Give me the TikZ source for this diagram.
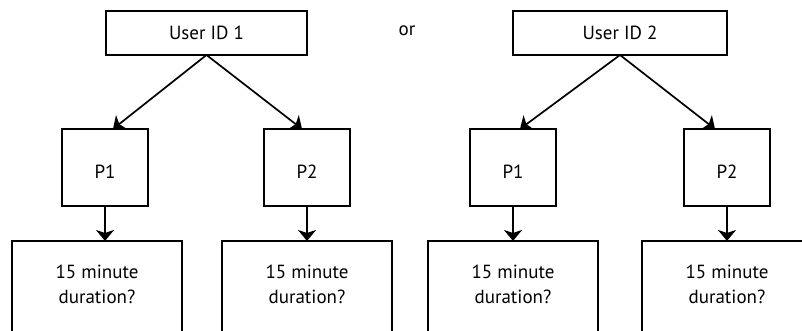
\documentclass[tikz,border=0pt]{standalone}
\usepackage{fontspec}
\setmainfont{PT Sans}
\usetikzlibrary{arrows.meta}
\begin{document}
\begin{tikzpicture}[x=1pt,y=-1pt,
  box/.style={draw,line width=1.8pt,inner sep=0pt,outer sep=0pt},
  lbl/.style={font=\fontsize{19}{25}\selectfont,align=center,inner sep=0pt},
  conn/.style={-{Stealth[length=11pt,width=18pt,inset=3pt]},line width=1.7pt}]
\useasboundingbox (0,0) rectangle (802,331);
\clip (0,0) rectangle (802,331);

% user boxes
\node[box,minimum width=201pt,minimum height=44pt,lbl] (u1) at (206.5,33) {User ID 1};
\node[box,minimum width=214pt,minimum height=44pt,lbl] (u2) at (620,33) {User ID 2};
\node[lbl] (or) at (407,31) {or};

% process boxes
\node[box,minimum width=86pt,minimum height=77pt] (p11) at (105,167.5) {};
\node[box,minimum width=86pt,minimum height=77pt] (p12) at (307,167.5) {};
\node[box,minimum width=86pt,minimum height=77pt] (p21) at (513,167.5) {};
\node[box,minimum width=86pt,minimum height=77pt] (p22) at (727,167.5) {};
\node[lbl] (t11) at (105,172) {P1};
\node[lbl] (t12) at (307,172) {P2};
\node[lbl] (t21) at (513,172) {P1};
\node[lbl] (t22) at (727,172) {P2};

% duration boxes (run past the lower edge)
\node[box,minimum width=170pt,minimum height=110pt,anchor=north] (d11) at (97,241) {};
\node[box,minimum width=170pt,minimum height=110pt,anchor=north] (d12) at (307,241) {};
\node[box,minimum width=170pt,minimum height=110pt,anchor=north] (d21) at (513,241) {};
\node[box,minimum width=170pt,minimum height=110pt,anchor=north] (d22) at (727,241) {};
\node[lbl] (e11) at (97,284.5) {15 minute\\duration?};
\node[lbl] (e12) at (307,284.5) {15 minute\\duration?};
\node[lbl] (e21) at (513,284.5) {15 minute\\duration?};
\node[lbl] (e22) at (727,284.5) {15 minute\\duration?};

% connectors
\coordinate (a11) at ([xshift=8pt]p11.north);
\coordinate (a12) at ([xshift=-5pt]p12.north);
\coordinate (a21) at ([xshift=7pt]p21.north);
\coordinate (a22) at ([xshift=-12pt]p22.north);
\draw[conn] (u1.south) -- (a11);
\draw[conn] (u1.south) -- (a12);
\draw[conn] (u2.south) -- (a21);
\draw[conn] (u2.south) -- (a22);
\draw[conn] (p11.south) -- (p11.south |- d11.north);
\draw[conn] (p12.south) -- (p12.south |- d12.north);
\draw[conn] (p21.south) -- (p21.south |- d21.north);
\draw[conn] (p22.south) -- (p22.south |- d22.north);
\end{tikzpicture}
\end{document}
